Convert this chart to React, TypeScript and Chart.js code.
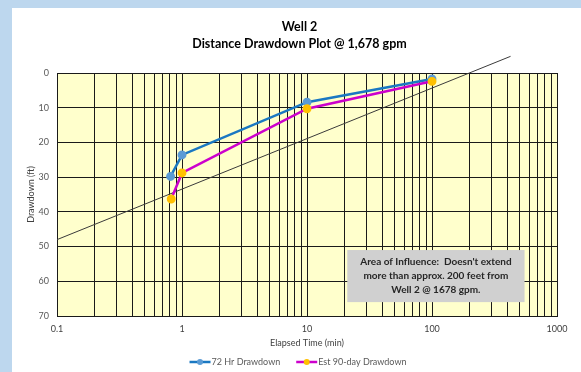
import React, { useEffect, useRef } from "react";
import { Chart, registerables } from "chart.js";

Chart.register(...registerables);

// ---------- data ----------
const TITLE_LINES = ["Well 2", "Distance Drawdown Plot @ 1,678 gpm"];
const X_TITLE = "Elapsed Time (min)";
const Y_TITLE = "Drawdown (ft)";
const SERIES_NAMES = ["72 Hr Drawdown", "Est 90-day Drawdown"];

const time72 = [0.81, 1.0, 10, 100];
const drawdown72 = [29.8, 23.6, 8.4, 1.7];

const timeEst = [0.82, 1.0, 10, 100];
const drawdownEst = [36.3, 28.8, 10.3, 2.4];

const trendTime = [0.1, 425];
const trendDrawdown = [48, -4.8];

const xGridValues = [
  0.1, 0.2, 0.3, 0.4, 0.5, 0.6, 0.7, 0.8, 0.9,
  1, 2, 3, 4, 5, 6, 7, 8, 9,
  10, 20, 30, 40, 50, 60, 70, 80, 90,
  100, 200, 300, 400, 500, 600, 700, 800, 900,
  1000,
];
const xTickLabels = ["0.1", "1", "10", "100", "1000"];
const yTickValues = [0, 10, 20, 30, 40, 50, 60, 70];

const noteLines = [
  "Area of Influence:  Doesn't extend",
  "more than approx. 200 feet from",
  "Well 2 @ 1678 gpm.",
];
const noteTime = [21, 550];
const noteDrawdown = [51, 66];

// ---------- styles ----------
const FONT = "Lato, 'Open Sans', sans-serif";
const BLUE = "#1a78c2";
const BLUE_MARK = "#5b9bd5";
const MAGENTA = "#cc00cc";
const ORANGE_MARK = "#ffc000";

const toPts = (xs: number[], ys: number[]) => xs.map((x, i) => ({ x, y: ys[i] }));

const decorPlugin = {
  id: "decor",
  beforeDraw(chart: any) {
    const { ctx, chartArea: a } = chart;
    ctx.save();
    ctx.fillStyle = "#FFFFCC";
    ctx.fillRect(a.left, a.top, a.right - a.left, a.bottom - a.top);
    ctx.restore();
  },
  afterDraw(chart: any) {
    const { ctx } = chart;
    const xs = chart.scales.x;
    const ys = chart.scales.y;
    ctx.save();
    // title
    ctx.fillStyle = "#000";
    ctx.font = `bold 12.5px ${FONT}`;
    ctx.textAlign = "center";
    ctx.textBaseline = "middle";
    const cx = chart.width / 2 + 3;
    TITLE_LINES.forEach((t, i) => ctx.fillText(t, cx, 19 + i * 17));

    // annotation box
    const bx0 = xs.getPixelForValue(noteTime[0]);
    const bx1 = xs.getPixelForValue(noteTime[1]);
    const by0 = ys.getPixelForValue(noteDrawdown[0]);
    const by1 = ys.getPixelForValue(noteDrawdown[1]);
    ctx.fillStyle = "#d0d0d0";
    ctx.fillRect(bx0, by0, bx1 - bx0, by1 - by0);
    ctx.fillStyle = "#262626";
    ctx.font = `bold 10px ${FONT}`;
    const bcx = (bx0 + bx1) / 2;
    const bcy = (by0 + by1) / 2;
    noteLines.forEach((t, i) => ctx.fillText(t, bcx, bcy + (i - 1) * 14));

    // legend
    const ly = 354;
    ctx.font = `9px ${FONT}`;
    ctx.textAlign = "left";
    ctx.fillStyle = "#595959";
    const items = [
      { name: SERIES_NAMES[0], line: BLUE, mark: BLUE_MARK },
      { name: SERIES_NAMES[1], line: MAGENTA, mark: ORANGE_MARK },
    ];
    const widths = items.map((it) => 21 + 2 + ctx.measureText(it.name).width);
    const gap = 15;
    const total = widths[0] + widths[1] + gap;
    let lx = 286.5 - total / 2;
    items.forEach((it, i) => {
      ctx.strokeStyle = it.line;
      ctx.lineWidth = 2.5;
      ctx.beginPath();
      ctx.moveTo(lx, ly);
      ctx.lineTo(lx + 21, ly);
      ctx.stroke();
      ctx.fillStyle = it.mark;
      ctx.beginPath();
      ctx.arc(lx + 10.5, ly, 3, 0, Math.PI * 2);
      ctx.fill();
      ctx.fillStyle = "#595959";
      ctx.fillText(it.name, lx + 22, ly);
      lx += widths[i] + gap;
    });
    ctx.restore();
  },
};

export default function App() {
  const ref = useRef<HTMLCanvasElement | null>(null);

  useEffect(() => {
    if (!ref.current) return;
    const chart = new Chart(ref.current, {
      type: "scatter",
      data: {
        datasets: [
          {
            label: SERIES_NAMES[1],
            data: toPts(timeEst, drawdownEst),
            showLine: true,
            borderColor: MAGENTA,
            borderWidth: 2.5,
            pointBackgroundColor: ORANGE_MARK,
            pointBorderColor: ORANGE_MARK,
            pointRadius: 3.2,
            order: 0,
          },
          {
            label: SERIES_NAMES[0],
            data: toPts(time72, drawdown72),
            showLine: true,
            borderColor: BLUE,
            borderWidth: 2.5,
            pointBackgroundColor: BLUE_MARK,
            pointBorderColor: BLUE_MARK,
            pointRadius: 3.2,
            order: 1,
          },
          {
            label: "trend",
            data: toPts(trendTime, trendDrawdown),
            showLine: true,
            borderColor: "#3a3a3a",
            borderWidth: 1,
            pointRadius: 0,
            clip: false,
            order: 2,
          },
        ],
      } as any,
      options: {
        animation: false,
        responsive: false,
        layout: { padding: { left: 0, right: 24, top: 65, bottom: 20 } },
        plugins: {
          legend: { display: false },
          title: { display: false },
          tooltip: { enabled: false },
        },
        scales: {
          x: {
            type: "logarithmic",
            min: 0.1,
            max: 1000,
            afterBuildTicks: (s: any) => {
              s.ticks = xGridValues.map((v) => ({ value: v }));
            },
            afterFit: (s: any) => {
              s.height = 36;
            },
            ticks: {
              autoSkip: false,
              maxRotation: 0,
              padding: 8,
              color: "#404040",
              font: { family: FONT, size: 9 },
              callback: (v: any) => {
                const s = String(Number(v));
                return xTickLabels.includes(s) ? s : "";
              },
            },
            grid: { color: "#1a1a1a", lineWidth: 1, drawTicks: false },
            border: { color: "#1a1a1a" },
            title: {
              display: true,
              text: X_TITLE,
              color: "#404040",
              font: { family: FONT, size: 9 },
              padding: { top: 4, bottom: 4 },
            },
          },
          y: {
            type: "linear",
            reverse: true,
            min: 0,
            max: 70,
            afterBuildTicks: (s: any) => {
              s.ticks = yTickValues.map((v) => ({ value: v }));
            },
            afterFit: (s: any) => {
              s.width = 45;
            },
            ticks: {
              padding: 8,
              color: "#595959",
              font: { family: FONT, size: 9 },
            },
            grid: { color: "#1a1a1a", lineWidth: 1, drawTicks: false },
            border: { color: "#1a1a1a" },
            title: {
              display: true,
              text: Y_TITLE,
              color: "#404040",
              font: { family: FONT, size: 9 },
              padding: { top: 14, bottom: 4 },
            },
          },
        },
      } as any,
      plugins: [decorPlugin],
    });
    return () => chart.destroy();
  }, []);

  return (
    <div
      style={{
        position: "fixed",
        left: 0,
        top: 0,
        width: 581,
        height: 372,
        background: "#BDD7EE",
        overflow: "hidden",
      }}
    >
      <div
        style={{
          position: "absolute",
          left: 12,
          top: 8,
          width: 569,
          height: 364,
          background: "#ffffff",
        }}
      >
        <canvas ref={ref} width={569} height={364} style={{ width: 569, height: 364, display: "block" }} />
      </div>
    </div>
  );
}
